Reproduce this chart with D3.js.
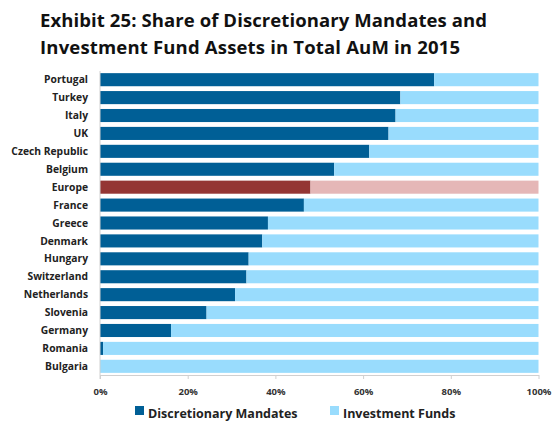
<!DOCTYPE html>
<html><head><meta charset="utf-8">
<script src="https://cdn.jsdelivr.net/npm/d3@7"></script>
<style>body{margin:0;background:#fff}svg{display:block}</style>
</head><body>
<script>
const categories = ["Portugal","Turkey","Italy","UK","Czech Republic","Belgium","Europe","France","Greece","Denmark","Hungary","Switzerland","Netherlands","Slovenia","Germany","Romania","Bulgaria"];
const discretionary = [76.2,68.5,67.4,65.8,61.4,53.4,48.0,46.5,38.3,37.0,33.9,33.4,30.8,24.3,16.2,0.7,0.0];
const investmentFunds = discretionary.map(v => 100 - v);
const xTicks = [0,20,40,60,80,100];
const seriesNames = ["Discretionary Mandates","Investment Funds"];

const W=555,H=425;
const svg=d3.select("body").append("svg").attr("width",W).attr("height",H);
const font="'Open Sans', sans-serif";
const x=d3.scaleLinear().domain([0,100]).range([100,538.5]);
const y=d3.scaleBand().domain(categories).range([71,375]).paddingInner(0.27).paddingOuter(0.12);
const colDark="#005f96", colLight="#99dcfd", colEurDark="#943634", colEurLight="#e5b7b7";

// title
const t=svg.append("text").attr("font-family",font).attr("font-weight",700).attr("font-size",18.5).attr("fill","#111");
t.append("tspan").attr("x",40).attr("y",27).attr("textLength",447).attr("lengthAdjust","spacing").text("Exhibit 25: Share of Discretionary Mandates and");
t.append("tspan").attr("x",40).attr("y",54).attr("textLength",420).attr("lengthAdjust","spacing").text("Investment Fund Assets in Total AuM in 2015");

// bars
const g=svg.append("g");
categories.forEach((c,i)=>{
  const eu=c==="Europe";
  g.append("rect").attr("x",x(0)).attr("y",y(c)).attr("width",x(discretionary[i])-x(0)).attr("height",y.bandwidth())
    .attr("fill",eu?colEurDark:colDark);
  g.append("rect").attr("x",x(discretionary[i])).attr("y",y(c)).attr("width",x(discretionary[i]+investmentFunds[i])-x(discretionary[i])).attr("height",y.bandwidth())
    .attr("fill",eu?colEurLight:colLight);
});

// category labels
svg.append("g").selectAll("text").data(categories).join("text")
  .attr("x",88).attr("y",d=>y(d)+y.bandwidth()/2).attr("dy","0.35em")
  .attr("text-anchor","end").attr("font-family",font).attr("font-weight",700).attr("font-size",10.3).attr("fill","#222")
  .text(d=>d);

// x axis
const ax=svg.append("g").attr("transform","translate(0,375)")
  .call(d3.axisBottom(x).tickValues(xTicks).tickFormat(d=>d+"%").tickSize(4).tickSizeOuter(0));
ax.select(".domain").attr("stroke","#d0d0d0");
ax.selectAll(".tick line").attr("stroke","#d0d0d0");
ax.selectAll(".tick text").attr("font-family",font).attr("font-weight",700).attr("font-size",9.5).attr("fill","#333").attr("dy","1.4em");
// left axis line
svg.append("line").attr("x1",x(0)).attr("x2",x(0)).attr("y1",71).attr("y2",379).attr("stroke","#d0d0d0");

// legend
const leg=svg.append("g").attr("font-family",font).attr("font-weight",700).attr("font-size",12.5).attr("fill","#222");
const legX=[135,330];
seriesNames.forEach((n,i)=>{
  leg.append("rect").attr("x",legX[i]).attr("y",406).attr("width",9).attr("height",9).attr("fill",i?colLight:colDark);
  leg.append("text").attr("x",legX[i]+13).attr("y",414).attr("dy","0.35em").text(n);
});
</script>
</body></html>
